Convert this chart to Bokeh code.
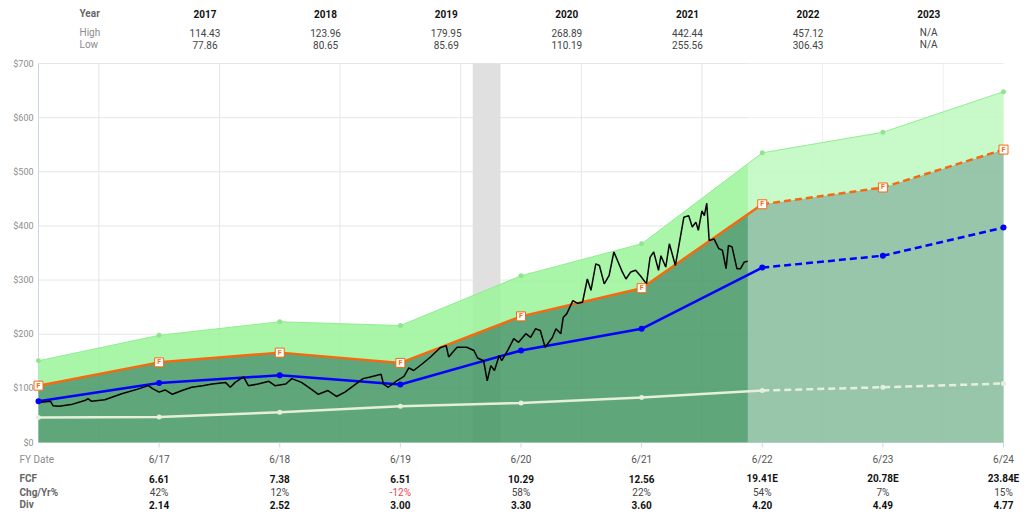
import numpy as np
from bokeh.plotting import figure
from bokeh.models import Range1d
from bokeh.core.properties import value
from bokeh.embed import file_html
from bokeh.resources import INLINE

# ---------------- data ----------------
fy_t = [2016.5, 2017.5, 2018.5, 2019.5, 2020.5, 2021.5, 2022.5, 2023.5, 2024.5]
fy_labels = ["6/16", "6/17", "6/18", "6/19", "6/20", "6/21", "6/22", "6/23", "6/24"]
upper_v = [151, 198, 223, 216, 308, 367, 535, 573, 648]
fair_v = [105, 148, 166, 147, 233, 285, 440, 471, 541]
normal_v = [76, 110, 124, 107, 170, 210, 323, 345, 397]
divline_v = [46, 47, 56, 67, 73, 83, 96, 102, 109]
n_hist = 7  # points through 6/22 drawn solid

price_t = [2016.50, 2016.60, 2016.62, 2016.67, 2016.77, 2016.89, 2016.91, 2016.94, 2017.05,
           2017.19, 2017.33, 2017.41, 2017.45, 2017.50, 2017.55, 2017.61, 2017.69, 2017.77,
           2017.86, 2017.94, 2018.05, 2018.09, 2018.13, 2018.20, 2018.24, 2018.32, 2018.41,
           2018.46, 2018.55, 2018.60, 2018.68, 2018.74, 2018.82, 2018.90, 2018.97, 2019.04,
           2019.13, 2019.19, 2019.25, 2019.34, 2019.36, 2019.40, 2019.47, 2019.53, 2019.57,
           2019.61, 2019.68, 2019.75, 2019.83, 2019.88, 2019.90, 2019.97, 2020.05, 2020.11,
           2020.14, 2020.19, 2020.22, 2020.25, 2020.28, 2020.32, 2020.34, 2020.39, 2020.44,
           2020.48, 2020.54, 2020.58, 2020.62, 2020.66, 2020.70, 2020.76, 2020.79, 2020.83,
           2020.85, 2020.88, 2020.93, 2020.97, 2021.01, 2021.05, 2021.08, 2021.12, 2021.15,
           2021.19, 2021.23, 2021.27, 2021.30, 2021.34, 2021.37, 2021.41, 2021.45, 2021.49,
           2021.54, 2021.57, 2021.60, 2021.64, 2021.66, 2021.70, 2021.73, 2021.78, 2021.85,
           2021.89, 2021.92, 2021.95, 2021.97, 2022.00, 2022.02, 2022.04, 2022.06, 2022.10,
           2022.14, 2022.17, 2022.20, 2022.22, 2022.25, 2022.29, 2022.32, 2022.35, 2022.38]
price_v = [74, 76, 68, 67, 70, 78, 81, 76, 79,
           90, 99, 105, 99, 93, 97, 89, 96, 102,
           105, 108, 111, 102, 111, 121, 105, 108, 113,
           105, 108, 118, 111, 102, 89, 96, 85, 93,
           108, 118, 121, 126, 108, 102, 114, 122, 138,
           133, 145, 158, 175, 179, 158, 176, 176, 170,
           156, 151, 114, 142, 133, 161, 151, 170, 192,
           185, 201, 194, 210, 207, 176, 194, 210, 201,
           231, 238, 262, 257, 259, 302, 281, 330, 327,
           293, 308, 352, 336, 315, 302, 315, 318, 308,
           293, 342, 352, 318, 345, 324, 367, 327, 416,
           419, 398, 407, 392, 428, 419, 442, 373, 376,
           358, 355, 321, 364, 361, 321, 321, 333, 335]

recession = [2020.10, 2020.33]

y_ticks = [0, 100, 200, 300, 400, 500, 600, 700]
jan_ticks = [2017.0, 2018.0, 2019.0, 2020.0, 2021.0, 2022.0, 2023.0, 2024.0]

tbl_years = [2017, 2018, 2019, 2020, 2021, 2022, 2023]
tbl_high = [114.43, 123.96, 179.95, 268.89, 442.44, 457.12, None]
tbl_low = [77.86, 80.65, 85.69, 110.19, 255.56, 306.43, None]

fcf = [6.61, 7.38, 6.51, 10.29, 12.56, 19.41, 20.78, 23.84]
fcf_est = [False, False, False, False, False, True, True, True]
chg = [42, 12, -12, 58, 22, 54, 7, 15]
div = [2.14, 2.52, 3.00, 3.30, 3.60, 4.20, 4.49, 4.77]

# ---------------- layout helpers (pixel -> data) ----------------
X0, PX_PER_YR = 2016.5, 965 / 8.0
FRAME_TOP, FRAME_BOT = 63, 442
PX_PER_USD = (FRAME_BOT - FRAME_TOP) / 700.0


def px2x(px):
    return X0 + (px - 38) / PX_PER_YR


def py2y(py):
    return (FRAME_BOT - py) / PX_PER_USD


FONT = value("Roboto")
X_END = fy_t[-1]

p = figure(width=1024, height=517, output_backend="svg", toolbar_location=None,
           x_range=Range1d(px2x(0), px2x(1024)), y_range=Range1d(py2y(517), py2y(0)),
           x_axis_location=None, y_axis_location=None,
           min_border_left=0, min_border_right=0, min_border_top=0, min_border_bottom=0)
p.outline_line_color = None
p.grid.visible = False
p.background_fill_color = "white"
p.border_fill_color = "white"


def txt(xs, y, texts, bold=False, color="#333333", align="center", size="10px"):
    p.text(x=xs, y=[y] * len(xs), text=texts, text_align=align, text_baseline="middle",
           text_font=FONT, text_font_size=value(size),
           text_font_style="bold" if bold else "normal", text_color=color)


# ---------------- grid & axes ----------------
GRID = "#e6e6e6"
p.segment(x0=[X0] * len(y_ticks), y0=y_ticks, x1=[X_END] * len(y_ticks), y1=y_ticks,
          line_color=GRID, line_width=1)
p.segment(x0=jan_ticks, y0=[0] * len(jan_ticks), x1=jan_ticks, y1=[700] * len(jan_ticks),
          line_color=GRID, line_width=1)
p.segment(x0=[X0], y0=[0], x1=[X0], y1=[700], line_color="#ccd6eb", line_width=1)
p.text(x=[px2x(33)] * len(y_ticks), y=y_ticks, text=["$%d" % v for v in y_ticks],
       text_align="right", text_baseline="middle", text_font=FONT,
       text_font_size=value("9px"), text_color="#8c8c8c")

# recession band
p.quad(left=[recession[0]], right=[recession[1]], bottom=[0], top=[700],
       fill_color="#e0e0e0", line_color=None)

# areas
p.varea(x=fy_t, y1=[0] * len(fy_t), y2=fair_v, fill_color="#439664", fill_alpha=0.85)
p.varea(x=fy_t, y1=fair_v, y2=upper_v, fill_color="#9af59a", fill_alpha=0.85)

# forecast whitening overlay
p.quad(left=[price_t[-1]], right=[X_END], bottom=[0], top=[700],
       fill_color="white", fill_alpha=0.36, line_color=None)

# upper line
p.line(fy_t, upper_v, line_color="#90ee90", line_width=1)
p.scatter(fy_t, upper_v, marker="circle", size=5, fill_color="#8fe68f", line_color=None)

h = n_hist
p.line(fy_t[:h], divline_v[:h], line_color="#e6efdc", line_width=2.5)
p.line(fy_t[h - 1:], divline_v[h - 1:], line_color="#e6efdc", line_width=2.5, line_dash="7 4")
p.line(fy_t[:h], fair_v[:h], line_color="#f7690f", line_width=2.5)
p.line(fy_t[h - 1:], fair_v[h - 1:], line_color="#f7690f", line_width=2.5, line_dash="7 4")
p.line(fy_t[:h], normal_v[:h], line_color="#0000ff", line_width=2.5)
p.line(fy_t[h - 1:], normal_v[h - 1:], line_color="#0000ff", line_width=2.5, line_dash="7 4")

p.line(price_t, price_v, line_color="black", line_width=1.5)

p.scatter(fy_t, divline_v, marker="circle", size=5, fill_color="#e6efdc", line_color=None)
p.scatter(fy_t, normal_v, marker="circle", size=6, fill_color="#0000ff", line_color=None)
p.scatter(fy_t, fair_v, marker="square", size=9, fill_color="white", line_color="#f7690f",
          line_width=1)
p.text(fy_t, fair_v, text=value("F"), text_align="center", text_baseline="middle",
       text_font=FONT, text_font_size=value("7px"), text_font_style="bold",
       text_color="#f7690f")

# ---------------- top table ----------------
lx = px2x(79)
txt([lx], py2y(13), ["Year"], bold=True, color="#666666", align="left")
txt([lx], py2y(32), ["High"], color="#8c8c8c", align="left")
txt([lx], py2y(44), ["Low"], color="#8c8c8c", align="left")
col_x = [yr + 0.88 for yr in tbl_years]
txt(col_x, py2y(13), [str(y) for y in tbl_years], bold=True, color="#111111")
txt(col_x, py2y(32), [("%.2f" % v) if v is not None else "N/A" for v in tbl_high], color="#444444")
txt(col_x, py2y(44), [("%.2f" % v) if v is not None else "N/A" for v in tbl_low], color="#444444")

# ---------------- bottom table ----------------
bx = fy_t[1:]
p.segment(x0=bx, y0=[0] * len(bx), x1=bx, y1=[py2y(447)] * len(bx), line_color="#ccd6eb",
          line_width=1)
left_x = px2x(19)
txt([left_x], py2y(459), ["FY Date"], color="#8c8c8c", align="left")
txt([left_x], py2y(478), ["FCF"], bold=True, color="#666666", align="left")
txt([left_x], py2y(491.5), ["Chg/Yr%"], bold=True, color="#666666", align="left")
txt([left_x], py2y(504), ["Div"], bold=True, color="#666666", align="left")
txt(bx, py2y(459), fy_labels[1:], color="#555555")
txt(bx, py2y(478), [("%.2f" % v) + ("E" if e else "") for v, e in zip(fcf, fcf_est)],
    bold=True, color="#111111")
p.text(x=bx, y=[py2y(491.5)] * len(bx), text=["%d%%" % v for v in chg], text_align="center",
       text_baseline="middle", text_font=FONT, text_font_size=value("10px"),
       text_color=["#e8474e" if v < 0 else "#444444" for v in chg])
txt(bx, py2y(504), ["%.2f" % v for v in div], bold=True, color="#111111")

open("out.html", "w").write(file_html(p, INLINE))
